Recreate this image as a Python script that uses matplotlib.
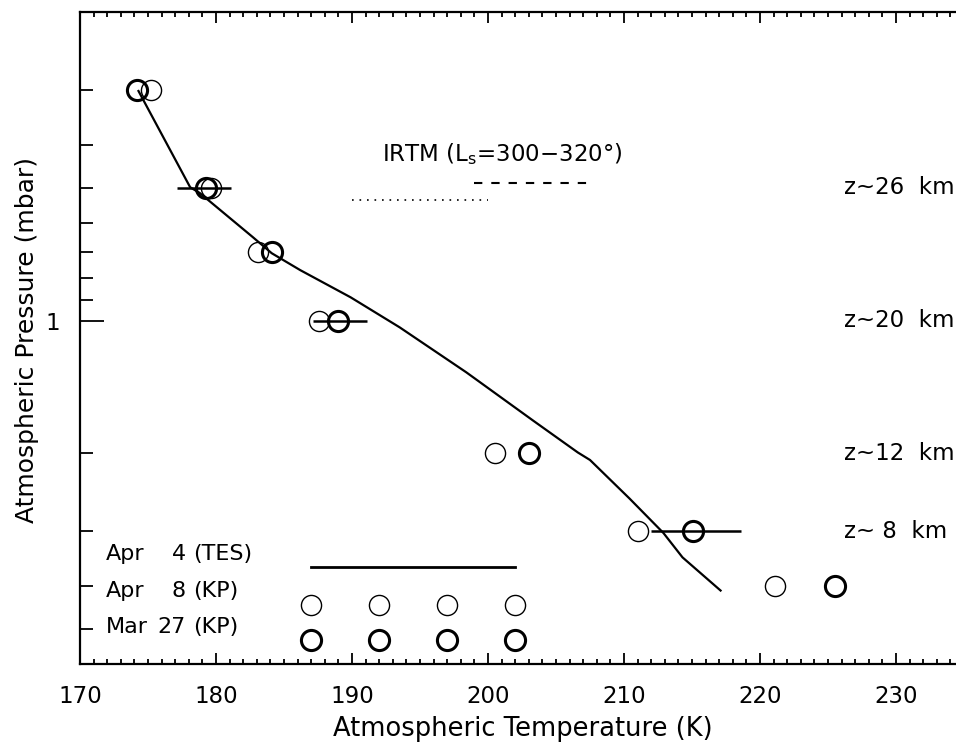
import numpy as np
import matplotlib
matplotlib.use("Agg")
import matplotlib.pyplot as plt
from matplotlib.ticker import FixedLocator, MultipleLocator, NullFormatter, FixedFormatter

# TES profile, Apr 4 (temperature K, pressure mbar)
tes_T = [174.3, 178.1, 178.8, 182.7, 184.1, 186.2, 189.9, 193.5, 198.4,
         203.3, 206.6, 207.5, 210.4, 212.9, 214.3, 217.1]
tes_p = [0.302, 0.499, 0.514, 0.647, 0.704, 0.769, 0.886, 1.036, 1.31,
         1.684, 1.99, 2.07, 2.53, 3.03, 3.44, 4.09]

# KP retrievals
kp_p = [0.3, 0.5, 0.7, 1.0, 2.0, 3.0, 4.0]
apr8_T = [175.2, 179.6, 183.1, 187.6, 200.5, 211.0, 221.1]
mar27_T = [174.2, 179.3, 184.1, 189.0, 203.0, 215.1, 225.5]

# error bars on the Mar 27 points
err_p = [0.5, 1.0, 3.0]
err_T = [179.1, 189.1, 215.3]
err_dT = [2.0, 2.0, 3.3]

# IRTM (Ls=300-320) line samples
irtm_dash_T = [199.0, 207.6]
irtm_dash_p = [0.488, 0.488]
irtm_dot_T = [190.0, 200.0]
irtm_dot_p = [0.532, 0.532]

# altitude labels
z_p = [0.5, 1.0, 2.0, 3.0]
z_text = ['z~26  km', 'z~20  km', 'z~12  km', 'z~ 8  km']

# key at lower left
key_T = [187, 192, 197, 202]

plt.rcParams['font.family'] = ['DejaVu Sans']

fig = plt.figure(figsize=(9.56, 7.48), dpi=100)
ax = fig.add_axes([80 / 956, 84 / 748, 876 / 956, 652 / 748])

ax.set_yscale('log')
ax.set_xlim(170, 234.41)
ax.set_ylim(6, 0.2)

ax.plot(tes_T, tes_p, color='k', lw=1.6)
ax.errorbar(err_T, err_p, xerr=err_dT, fmt='none', ecolor='k', elinewidth=1.8)
ax.plot(apr8_T, kp_p, 'o', mfc='none', mec='k', ms=14.5, mew=1.0)
ax.plot(mar27_T, kp_p, 'o', mfc='none', mec='k', ms=14.5, mew=2.2)

ax.plot(irtm_dash_T, irtm_dash_p, color='k', lw=1.5, dashes=(4, 4.3))
ax.plot(irtm_dot_T, irtm_dot_p, color='k', lw=1.2, linestyle=(0, (1, 3.5)))
ax.text(192.2, 0.42, 'IRTM (L$_\\mathregular{s}$=300$-$320°)', fontsize=16.5,
        ha='left', va='center')

for p, s in zip(z_p, z_text):
    ax.text(226.2, p, s, fontsize=16.5, ha='left', va='center')

# key
tr = ax.get_xaxis_transform()
ax.plot([key_T[0], key_T[-1]], [0.149, 0.149], color='k', lw=2.0, transform=tr)
ax.plot(key_T, [0.0905] * 4, 'o', mfc='none', mec='k', ms=14.5, mew=1.0,
        transform=tr, clip_on=False)
ax.plot(key_T, [0.0368] * 4, 'o', mfc='none', mec='k', ms=14.5, mew=2.2,
        transform=tr, clip_on=False)
rows = [('Apr', '4', '(TES)', 0.160), ('Apr', '8', '(KP)', 0.102),
        ('Mar', '27', '(KP)', 0.048)]
for mon, day, src, y in rows:
    ax.text(26 / 876, y, mon, transform=ax.transAxes, fontsize=16, va='baseline')
    ax.text(106 / 876, y, day, transform=ax.transAxes, fontsize=16,
            va='baseline', ha='right')
    ax.text(113 / 876, y, src, transform=ax.transAxes, fontsize=16, va='baseline')

# axes, ticks
ax.xaxis.set_major_locator(MultipleLocator(10))
ax.xaxis.set_minor_locator(MultipleLocator(1))
ax.yaxis.set_major_locator(FixedLocator([1.0]))
ax.yaxis.set_major_formatter(FixedFormatter(['1']))
ax.yaxis.set_minor_locator(FixedLocator([0.3, 0.4, 0.5, 0.6, 0.7, 0.8, 0.9,
                                         2, 3, 4, 5]))
ax.yaxis.set_minor_formatter(NullFormatter())

ax.tick_params(axis='x', which='both', direction='in', top=True, width=1.3,
               labelsize=16.5, pad=15)
ax.tick_params(axis='x', which='major', length=8)
ax.tick_params(axis='x', which='minor', length=3.6)
ax.tick_params(axis='y', which='both', direction='in', right=False, width=1.3,
               labelsize=16.5, pad=14)
ax.tick_params(axis='y', which='major', length=17)
ax.tick_params(axis='y', which='minor', length=9.5)

for side in ['left', 'top', 'bottom']:
    ax.spines[side].set_linewidth(1.6)
ax.spines['right'].set_visible(False)

ax.set_xlabel('Atmospheric Temperature (K)', fontsize=18.5)
ax.set_ylabel('Atmospheric Pressure (mbar)', fontsize=18)
ax.xaxis.set_label_coords(0.505, -0.08)
ax.yaxis.set_label_coords(-0.047, 0.497)

fig.savefig('out.png', dpi=100)
